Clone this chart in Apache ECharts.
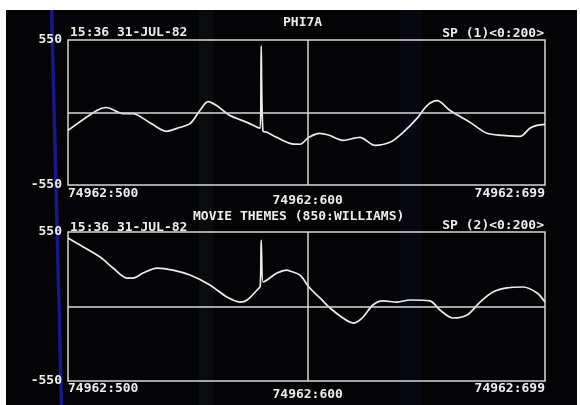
<!DOCTYPE html>
<html>
<head>
<meta charset="utf-8">
<script src="https://cdn.jsdelivr.net/npm/echarts@6/dist/echarts.min.js"></script>
<style>
html,body{margin:0;padding:0;background:#fff;}
#wrap{position:relative;width:580px;height:405px;overflow:hidden;background:#fff;}
#bg{position:absolute;left:6px;top:10px;width:571px;height:395px;background:#040407;}
#deco{position:absolute;left:0;top:0;}
#chart{position:absolute;left:0;top:0;width:580px;height:405px;}
</style>
</head>
<body>
<div id="wrap">
  <div id="bg"></div>
  <svg id="deco" width="580" height="405">
    <rect x="199" y="10" width="14" height="395" fill="rgba(40,75,55,0.12)"/>
    <rect x="400" y="10" width="22" height="395" fill="rgba(30,30,100,0.14)"/>
    <line x1="51.6" y1="10" x2="61.5" y2="405" stroke="#17178f" stroke-width="3.5"/>
  </svg>
  <div id="chart"></div>
</div>
<script>
// ---- data ----
var titleTop = 'PHI7A';
var titleBottom = 'MOVIE THEMES (850:WILLIAMS)';
var stamp = '15:36 31-JUL-82';
var spTop = 'SP (1)<0:200>';
var spBottom = 'SP (2)<0:200>';
var xPrefix = '74962:';
var xMin = 500, xMax = 699, cursorX = 600;
var yMin = -550, yMax = 550;

var xs1 = [500, 512, 516, 523, 527, 534, 541, 545.5, 551, 555, 558.4, 562, 567.6, 574.7, 579, 580.2, 580.6, 581.3, 583, 587, 592.6, 596.8, 600.5, 605, 609, 614.7, 621.8, 628, 634.3, 639.8, 645.6, 649.8, 654, 659.4, 667.7, 674.8, 681.5, 688.6, 692.7, 695.7, 699];
var ys1 = [-136, 15, 38, -8, -8, -75, -143, -120, -83, 15, 83, 53, -23, -75, -113, -118, 505, -140, -150, -188, -234, -241, -188, -158, -173, -211, -188, -249, -226, -151, -45, 53, 90, 15, -75, -158, -173, -181, -120, -98, -90];

var xs2 = [500, 505, 513.4, 518.8, 524.6, 527.1, 531.3, 537.1, 543.8, 550.9, 559.2, 566.3, 571.8, 574.7, 578.9, 580.2, 580.6, 581.4, 583, 587.2, 591.4, 592.6, 596.8, 600.5, 605.1, 609.3, 614.7, 618.9, 622.7, 627.2, 631.4, 637.3, 642.7, 651, 655.2, 660.6, 666.5, 671.9, 677.3, 683.2, 689.8, 695.7, 699];
var ys2 = [506, 454, 365, 284, 210, 210, 247, 284, 269, 232, 159, 70, 33, 48, 122, 150, 491, 181, 196, 247, 269, 262, 232, 144, 63, -11, -85, -122, -85, 11, 41, 33, 48, 41, -26, -85, -63, 33, 107, 137, 144, 100, 33];

function pairs(xs, ys){ return xs.map(function(x,i){ return [x, ys[i]]; }); }

var FONT = '"DejaVu Sans Mono", "Liberation Mono", monospace';
var TXT = '#ececec';
var LINE = '#d8d8d8';
var fs = 13;

function xAxisCfg(idx){
  return {
    type:'value', gridIndex: idx, min: xMin, max: xMax,
    axisLine:{show:false}, axisTick:{show:false}, splitLine:{show:false},
    axisLabel:{
      show:true, customValues:[xMin, xMax], margin: idx===0 ? 2 : 1,
      alignMinLabel:'left', alignMaxLabel:'right',
      color:TXT, fontFamily:FONT, fontWeight:'bold', fontSize:fs,
      formatter:function(v){ return xPrefix + v; }
    }
  };
}
function yAxisCfg(idx){
  return {
    type:'value', gridIndex: idx, min: yMin, max: yMax, interval: 550,
    axisLine:{show:false}, axisTick:{show:false}, splitLine:{show:false},
    axisLabel:{
      show:true, margin:6, color:TXT, fontFamily:FONT, fontWeight:'bold', fontSize:fs,
      formatter:function(v){ return v === 0 ? '' : String(v); }
    }
  };
}
function seriesCfg(idx, data, labelDist){
  return {
    type:'line', xAxisIndex: idx, yAxisIndex: idx, data: data,
    showSymbol:false, symbol:'none', smooth:0.3,
    lineStyle:{color:'#ececec', width:1.7},
    animation:false,
    markLine:{
      silent:true, symbol:['none','none'], animation:false,
      lineStyle:{color:LINE, width:1.5, type:'solid'},
      data:[
        {yAxis:0, label:{show:false}},
        {xAxis:cursorX, label:{show:true, position:'start', distance:labelDist,
          formatter: xPrefix + cursorX, color:TXT, fontFamily:FONT, fontWeight:'bold', fontSize:fs}}
      ]
    }
  };
}

var chart = echarts.init(document.getElementById('chart'), null, {renderer:'canvas'});
var tStyle = {color:TXT, fontFamily:FONT, fontWeight:'bold', fontSize:fs};
chart.setOption({
  backgroundColor:'transparent',
  animation:false,
  title:[
    {text:titleTop, left:283, top:16, textStyle:tStyle, padding:0},
    {text:stamp, left:70, top:26, textStyle:tStyle, padding:0},
    {text:spTop, right:36, top:27, textStyle:tStyle, padding:0},
    {text:titleBottom, left:193, top:210, textStyle:tStyle, padding:0},
    {text:stamp, left:70, top:221, textStyle:tStyle, padding:0},
    {text:spBottom, right:36, top:219, textStyle:tStyle, padding:0}
  ],
  grid:[
    {left:68, top:40, width:477, height:145, show:true, borderColor:LINE, borderWidth:1.5, backgroundColor:'transparent'},
    {left:68, top:232, width:477, height:149, show:true, borderColor:LINE, borderWidth:1.5, backgroundColor:'transparent'}
  ],
  xAxis:[xAxisCfg(0), xAxisCfg(1)],
  yAxis:[yAxisCfg(0), yAxisCfg(1)],
  series:[seriesCfg(0, pairs(xs1, ys1), 9), seriesCfg(1, pairs(xs2, ys2), 7)]
});
</script>
</body>
</html>
